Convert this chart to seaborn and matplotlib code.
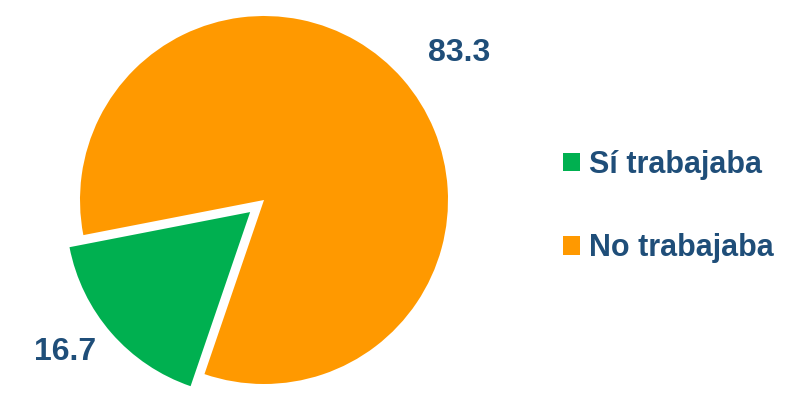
import numpy as np
import matplotlib.pyplot as plt
import seaborn as sns

# datos
categorias = ['Sí trabajaba', 'No trabajaba']
porcentajes = [16.7, 83.3]
colores = ['#00B050', '#FF9900']
color_texto = '#1F4E79'

sns.set_theme(style='white')
plt.rcParams['font.family'] = ['Liberation Sans', 'DejaVu Sans']

fig = plt.figure(figsize=(7.88, 4.01), dpi=100, facecolor='w')
ax = fig.add_axes([80 / 788, 17 / 401, 368 / 788, 368 / 401])

explode = [0.1, 0]
wedges, _ = ax.pie(porcentajes, colors=colores, startangle=191, explode=explode,
                   wedgeprops=dict(linewidth=0))
for w in wedges:
    w.set_clip_on(False)

# etiquetas de datos, un poco giradas como en Excel
dist = [1.26, 1.33]
for w, v, e, d in zip(wedges, porcentajes, explode, dist):
    mid = np.deg2rad((w.theta1 + w.theta2) / 2)
    lab = np.deg2rad((w.theta1 + w.theta2) / 2 - 4)
    x = e * np.cos(mid) + d * np.cos(lab)
    y = e * np.sin(mid) + d * np.sin(lab)
    ax.text(x, y, f'{v:.1f}', ha='center', va='center', color=color_texto,
            fontsize=23, fontweight='bold', clip_on=False)

ax.set_xlim(-1, 1)
ax.set_ylim(-1, 1)
ax.set_aspect('equal')
ax.axis('off')

fig.legend(wedges, categorias, loc='center left', bbox_to_anchor=(551 / 788, 0.485),
           borderaxespad=0, frameon=False, handlelength=0.55, handleheight=0.55,
           handletextpad=0.3, labelspacing=1.75, prop=dict(size=22, weight='bold'),
           labelcolor=color_texto)

plt.savefig('out.png', dpi=100)
